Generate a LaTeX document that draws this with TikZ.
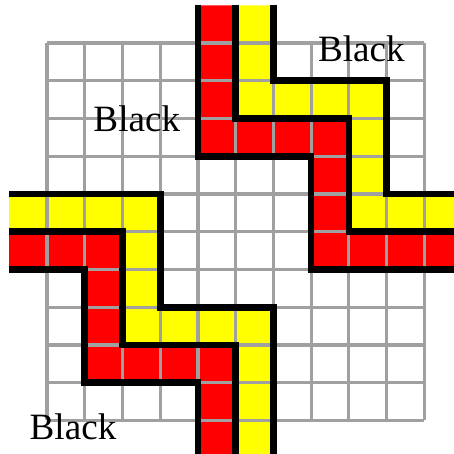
\documentclass[tikz,border=0pt]{standalone}
\usepackage{fontspec}
\setmainfont{Liberation Serif}
\usepackage{xcolor}
\usepackage{tikz}
\definecolor{bandred}{HTML}{FF0000}
\definecolor{bandyel}{HTML}{FFFF00}
\definecolor{gridgray}{HTML}{A0A0A0}
\tikzset{
  gr/.style={gridgray,line width=2.4pt},
  wall/.style={black,line width=5pt},
  lab/.style={font=\fontsize{28}{30}\selectfont,inner sep=0pt}
}

\begin{document}
\begin{tikzpicture}[x=1cm,y=1cm]
\useasboundingbox (-1.245,-0.89) rectangle (10.78,11.14);
\clip (-1.245,-0.89) rectangle (10.78,11.14);
\fill[bandred] (4,11)--(4,7)--(7,7)--(7,4)--(11,4)--(11,5)--(8,5)--(8,8)--(5,8)--(5,11)--cycle;
\fill[bandyel] (5,11)--(5,8)--(8,8)--(8,5)--(11,5)--(11,6)--(9,6)--(9,9)--(6,9)--(6,11)--cycle;
\fill[bandyel] (-1,6)--(3,6)--(3,3)--(6,3)--(6,-1)--(5,-1)--(5,2)--(2,2)--(2,5)--(-1,5)--cycle;
\fill[bandred] (-1,5)--(2,5)--(2,2)--(5,2)--(5,-1)--(4,-1)--(4,1)--(1,1)--(1,4)--(-1,4)--cycle;
\draw[gr] (0,0) grid (10,10);
\draw[wall] (4,11)--(4,7)--(7,7)--(7,4)--(11,4);
\draw[wall] (5,11)--(5,8)--(8,8)--(8,5)--(11,5);
\draw[wall] (6,11)--(6,9)--(9,9)--(9,6)--(11,6);
\draw[wall] (-1,6)--(3,6)--(3,3)--(6,3)--(6,-1);
\draw[wall] (-1,5)--(2,5)--(2,2)--(5,2)--(5,-1);
\draw[wall] (-1,4)--(1,4)--(1,1)--(4,1)--(4,-1);
\node[lab] (blackul) at (2.38,8.0) {Black};
\node[lab] (blackur) at (8.33,9.84) {Black};
\node[lab] (blackll) at (0.69,-0.16) {Black};
\end{tikzpicture}
\end{document}
